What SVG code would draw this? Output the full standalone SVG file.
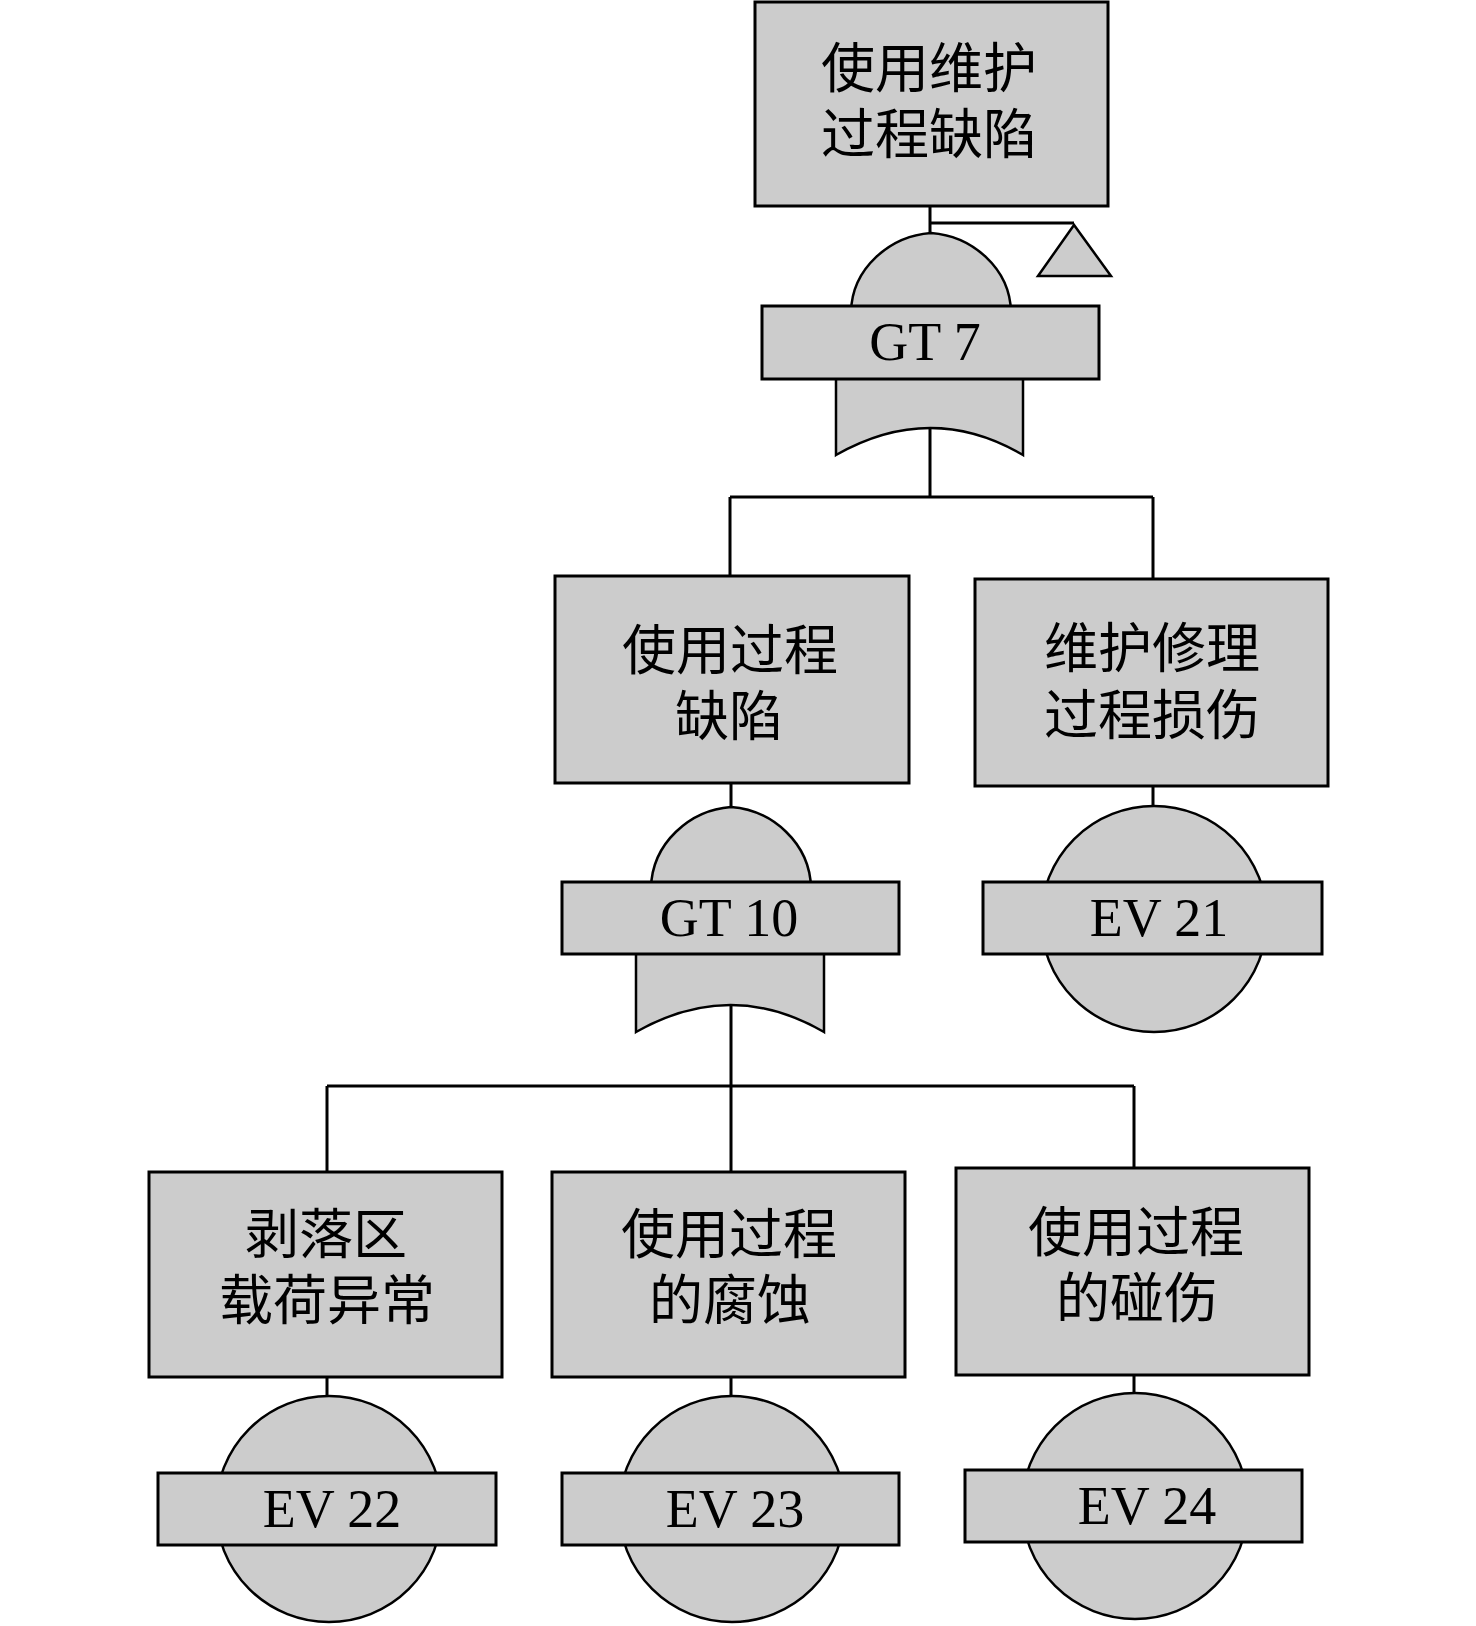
<svg xmlns="http://www.w3.org/2000/svg" width="1476" height="1626" viewBox="0 0 1476 1626">
<style>
.box{fill:#cccccc;stroke:#000;stroke-width:3}
.shape{fill:#cccccc;stroke:#000;stroke-width:2.5}
.wire{fill:none;stroke:#000;stroke-width:3}
.zh{font-family:"Liberation Serif","Noto Sans CJK SC",serif;font-size:54px;text-anchor:middle;fill:#000}
.lbl{font-family:"Liberation Serif","Times New Roman",serif;font-size:54px;text-anchor:middle;fill:#000}
</style>
<rect width="1476" height="1626" fill="#fff"/>
<g id="connectors">
<path class="wire" d="M930 206V233M930 223H1074"/>
<path class="wire" d="M930 428V497M730 497H1153M730 497V576M1153 497V579"/>
<path class="wire" d="M731 783V807M1153 786V806"/>
<path class="wire" d="M731 1005V1086M327 1086H1134M327 1086V1172M731 1086V1172M1134 1086V1168"/>
<path class="wire" d="M327 1377V1396M731 1377V1395M1134 1375V1392"/>
</g>
<g id="transfer">
<polygon class="shape" points="1074,225 1038,276 1111,276"/>
</g>
<g id="top-event">
<rect class="box" x="755" y="2" width="353" height="204"/>
<text class="zh" x="929" y="88">使用维护</text>
<text class="zh" x="929" y="154">过程缺陷</text>
</g>
<g id="gt7">
<path class="shape" d="M851 312C852 268 890 236 931 233C972 236 1010 268 1011 312Z"/>
<path class="shape" d="M836 378V455Q931 401 1023 455V378Z"/>
<rect class="box" x="762" y="306" width="337" height="73"/>
<text class="lbl" x="925" y="360">GT 7</text>
</g>
<g id="use-defect">
<rect class="box" x="555" y="576" width="354" height="207"/>
<text class="zh" x="730" y="670">使用过程</text>
<text class="zh" x="729" y="736">缺陷</text>
</g>
<g id="maint-damage">
<rect class="box" x="975" y="579" width="353" height="207"/>
<text class="zh" x="1152" y="668">维护修理</text>
<text class="zh" x="1152" y="735">过程损伤</text>
</g>
<g id="gt10">
<path class="shape" d="M651 888C652 843 690 810 731 807C772 810 810 843 811 888Z"/>
<path class="shape" d="M636 953V1032Q731 978 824 1032V953Z"/>
<rect class="box" x="562" y="882" width="337" height="72"/>
<text class="lbl" x="729" y="936">GT 10</text>
</g>
<g id="ev21">
<circle class="shape" cx="1154" cy="919" r="113"/>
<rect class="box" x="983" y="882" width="339" height="72"/>
<text class="lbl" x="1159" y="936">EV 21</text>
</g>
<g id="spall-load">
<rect class="box" x="149" y="1172" width="353" height="205"/>
<text class="zh" x="326" y="1254">剥落区</text>
<text class="zh" x="327" y="1320">载荷异常</text>
</g>
<g id="corrosion">
<rect class="box" x="552" y="1172" width="353" height="205"/>
<text class="zh" x="729" y="1254">使用过程</text>
<text class="zh" x="730" y="1320">的腐蚀</text>
</g>
<g id="impact">
<rect class="box" x="956" y="1168" width="353" height="207"/>
<text class="zh" x="1136" y="1252">使用过程</text>
<text class="zh" x="1137" y="1318">的碰伤</text>
</g>
<g id="ev22">
<circle class="shape" cx="329" cy="1509" r="113"/>
<rect class="box" x="158" y="1473" width="338" height="72"/>
<text class="lbl" x="332" y="1527">EV 22</text>
</g>
<g id="ev23">
<circle class="shape" cx="732" cy="1509" r="113"/>
<rect class="box" x="562" y="1473" width="337" height="72"/>
<text class="lbl" x="735" y="1527">EV 23</text>
</g>
<g id="ev24">
<circle class="shape" cx="1135" cy="1506" r="113"/>
<rect class="box" x="965" y="1470" width="337" height="72"/>
<text class="lbl" x="1147" y="1524">EV 24</text>
</g>
</svg>
